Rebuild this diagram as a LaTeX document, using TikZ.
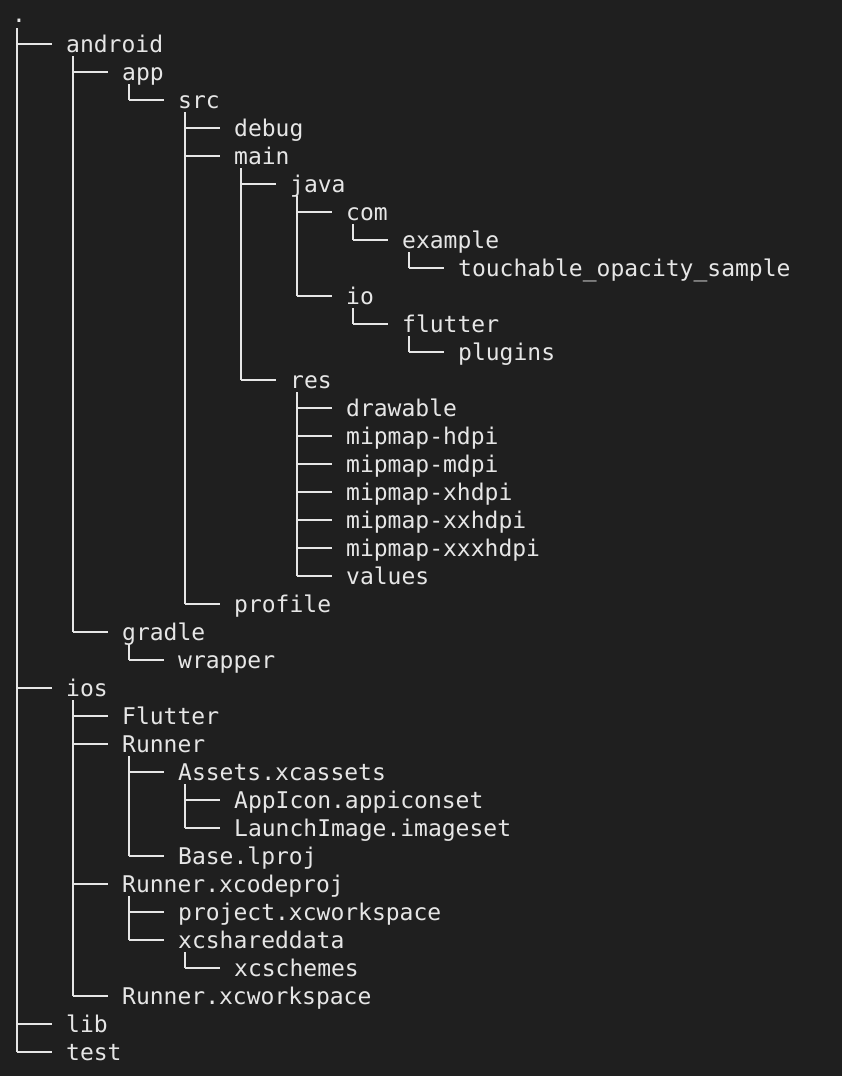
\documentclass[tikz,border=0pt]{standalone}
\usepackage{fontspec}
\setmonofont{DejaVu Sans Mono}
\definecolor{bg}{HTML}{1F1F1F}
\definecolor{fg}{HTML}{E6E6E6}
\begin{document}
\begin{tikzpicture}[x=1pt,y=-1pt,
  lbl/.style={anchor=base west,inner sep=0pt,text=fg,font=\ttfamily\fontsize{23}{23}\selectfont},
  br/.style={draw=fg,line width=1.6pt}]
\fill[bg] (0,0) rectangle (842,1076);
\useasboundingbox (0,0) rectangle (842,1076);
\node[lbl] (root) at (12,23) {.};
\foreach \r/\d/\t [count=\i] in {
1/1/android,2/2/app,3/3/src,4/4/debug,5/4/main,6/5/java,7/6/com,8/7/example,
9/8/touchable\_opacity\_sample,10/6/io,11/7/flutter,12/8/plugins,13/5/res,
14/6/drawable,15/6/mipmap-hdpi,16/6/mipmap-mdpi,17/6/mipmap-xhdpi,18/6/mipmap-xxhdpi,
19/6/mipmap-xxxhdpi,20/6/values,21/4/profile,22/2/gradle,23/3/wrapper,24/1/ios,
25/2/Flutter,26/2/Runner,27/3/Assets.xcassets,28/4/AppIcon.appiconset,
29/4/LaunchImage.imageset,30/3/Base.lproj,31/2/Runner.xcodeproj,
32/3/project.xcworkspace,33/3/xcshareddata,34/4/xcschemes,35/2/Runner.xcworkspace,
36/1/lib,37/1/test}{
  \node[lbl] (n\r) at ({10+56*\d},{24+28*\r}) {\t};
  \coordinate (h\r) at ({-39+56*\d},{16+28*\r});
  \draw[br] (h\r) -- ++(35,0);
}
\foreach \p/\d/\l in {0/1/37,1/2/22,2/3/3,3/4/21,5/5/13,6/6/10,7/7/8,8/8/9,10/7/11,
11/8/12,13/6/20,22/3/23,24/2/35,26/3/30,27/4/29,31/3/33,33/4/34}{
  \coordinate (v\p) at ({-39+56*\d},{16+28*\p+12});
  \draw[br] (v\p) -- (h\l);
}
\end{tikzpicture}
\end{document}
